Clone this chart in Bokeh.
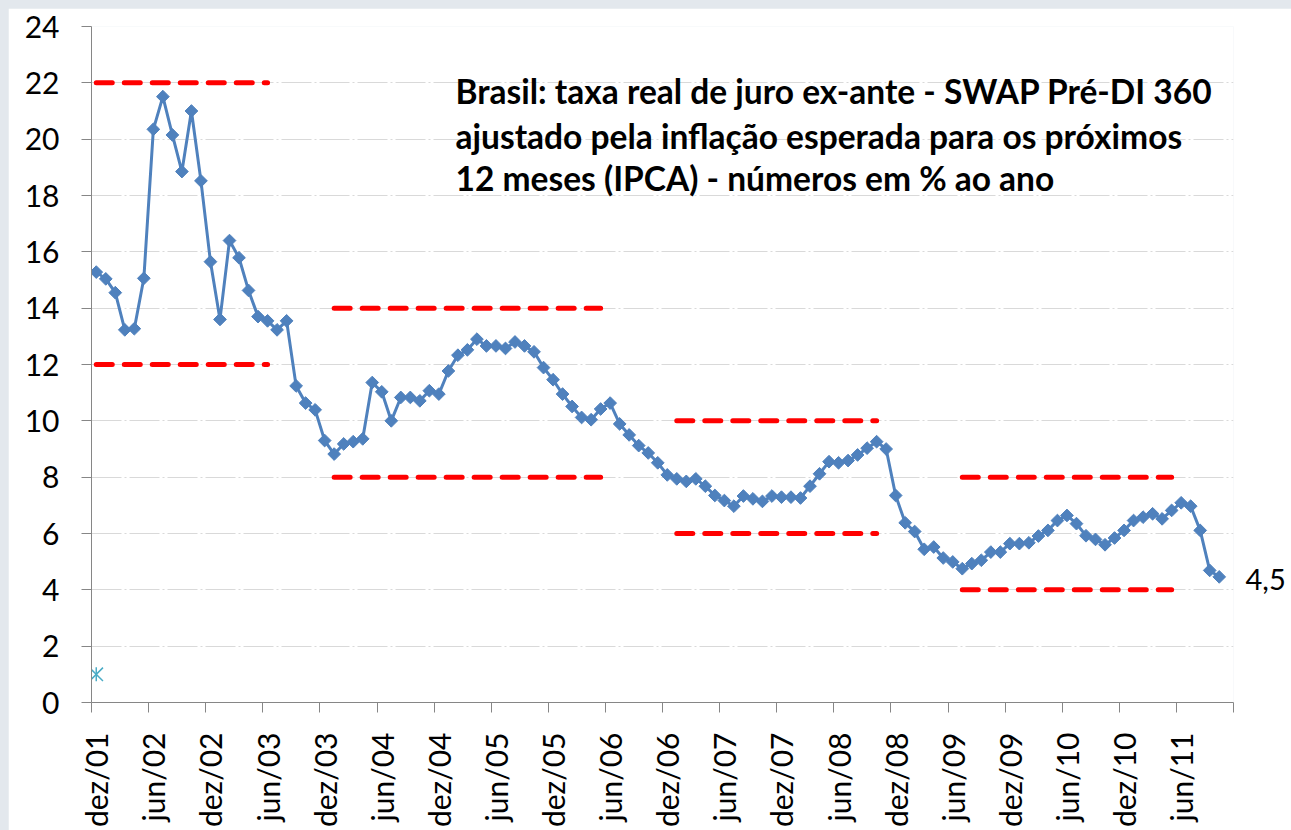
import math
from bokeh.plotting import figure
from bokeh.models import Range1d, FixedTicker, LinearAxis, Label, ColumnDataSource
from bokeh.embed import file_html
from bokeh.resources import INLINE

FONT = "Lato"

# ---- categories (monthly, dez/01 .. nov/11) ----
month_abbr = ["jan", "fev", "mar", "abr", "mai", "jun",
              "jul", "ago", "set", "out", "nov", "dez"]
categories = []
y, m = 2001, 12
for _ in range(120):
    categories.append(f"{month_abbr[m - 1]}/{y % 100:02d}")
    m += 1
    if m > 12:
        m = 1
        y += 1

# ---- series: real ex-ante interest rate (% a.a.), dez/01 .. out/11 ----
real_rate = [
    15.28, 15.04, 14.55, 13.23, 13.27, 15.06, 20.35, 21.51, 20.15, 18.85, 21.00,
    18.52, 15.65, 13.60, 16.40, 15.79, 14.63, 13.70, 13.55, 13.23, 13.55,
    11.24, 10.63, 10.39, 9.30, 8.82, 9.18, 9.26, 9.36, 11.36, 11.03,
    10.00, 10.83, 10.83, 10.71, 11.07, 10.95, 11.77, 12.33, 12.52, 12.90,
    12.66, 12.66, 12.57, 12.80, 12.66, 12.45, 11.89, 11.46, 10.95, 10.51,
    10.12, 10.04, 10.42, 10.63, 9.89, 9.50, 9.12, 8.86, 8.51, 8.08,
    7.94, 7.85, 7.94, 7.68, 7.35, 7.17, 6.97, 7.33, 7.23, 7.14,
    7.33, 7.29, 7.29, 7.26, 7.68, 8.12, 8.55, 8.51, 8.59, 8.79,
    9.03, 9.26, 9.00, 7.35, 6.38, 6.07, 5.44, 5.52, 5.13, 4.99,
    4.75, 4.93, 5.05, 5.34, 5.34, 5.64, 5.64, 5.67, 5.91, 6.11,
    6.46, 6.64, 6.35, 5.92, 5.79, 5.60, 5.84, 6.11, 6.46, 6.58,
    6.70, 6.52, 6.82, 7.09, 6.97, 6.11, 4.69, 4.46,
]

# second (single-point) series
star_month = ["dez/01"]
star_value = [1.0]

# red dashed bands
band_start = ["dez/01", "jan/04", "jan/07", "jul/09"]
band_end = ["jun/03", "mai/06", "out/08", "mai/11"]
band_upper = [22, 14, 10, 8]
band_lower = [12, 8, 6, 4]

# axis tick labels
tick_labels = ["dez/01", "jun/02", "dez/02", "jun/03", "dez/03", "jun/04",
               "dez/04", "jun/05", "dez/05", "jun/06", "dez/06", "jun/07",
               "dez/07", "jun/08", "dez/08", "jun/09", "dez/09", "jun/10",
               "dez/10", "jun/11"]
y_ticks = list(range(0, 25, 2))

title_lines = [
    "Brasil: taxa real de juro ex-ante - SWAP Pré-DI 360",
    "ajustado pela inflação esperada para os próximos",
    "12 meses (IPCA) - números em % ao ano",
]

# ---------------------------------------------------------------
idx = {c: i for i, c in enumerate(categories)}
x_vals = list(range(len(real_rate)))

p = figure(width=1283, height=822,
           x_range=Range1d(-0.5, len(categories) - 0.5),
           y_range=Range1d(0, 24),
           output_backend="svg", toolbar_location=None,
           min_border_left=83, min_border_right=58,
           min_border_top=18, min_border_bottom=126,
           background_fill_color="white", border_fill_color="white",
           outline_line_color=None)

AX = "#868686"

# y axis
p.yaxis.ticker = FixedTicker(ticks=y_ticks)
p.yaxis.major_tick_out = 10
p.yaxis.major_tick_in = 0
p.yaxis.minor_tick_line_color = None
p.yaxis.axis_line_color = AX
p.yaxis.major_tick_line_color = AX
p.yaxis.major_label_text_font = FONT
p.yaxis.major_label_text_font_size = "30px"
p.yaxis.major_label_text_color = "black"
p.yaxis.major_label_standoff = 22

# x axis: labels at category centres (major), tick marks at the
# category boundaries (minor)
label_pos = [idx[t] for t in tick_labels]
bounds = [idx[t] - 0.5 for t in tick_labels] + [len(categories) - 0.5]
xa = p.xaxis[0]
xa.ticker = FixedTicker(ticks=label_pos, minor_ticks=bounds)
xa.major_label_overrides = {idx[t]: t for t in tick_labels}
xa.major_tick_out = 0
xa.major_tick_in = 0
xa.major_tick_line_color = None
xa.minor_tick_out = 10
xa.minor_tick_in = 0
xa.minor_tick_line_color = AX
xa.axis_line_color = AX
xa.major_label_orientation = math.pi / 2
xa.major_label_standoff = 20
xa.major_label_text_font = FONT
xa.major_label_text_font_size = "30px"
xa.major_label_text_color = "black"

# last value shown at the right edge (right axis with one tick)
last = real_rate[-1]
last_txt = f"{last:.1f}".replace(".", ",")
ra = LinearAxis(ticker=FixedTicker(ticks=[last - 0.1]),
                major_label_overrides={last - 0.1: last_txt},
                major_tick_out=0, major_tick_in=0,
                minor_tick_line_color=None, axis_line_color=None,
                major_tick_line_color=None,
                major_label_standoff=12,
                major_label_text_font=FONT,
                major_label_text_font_size="29px",
                major_label_text_color="black")
p.add_layout(ra, "right")

# grid
p.xgrid.grid_line_color = None
p.ygrid.ticker = FixedTicker(ticks=y_ticks)
p.ygrid.grid_line_color = "#d9d9d9"
p.ygrid.grid_line_dash = "30 3 2 3"
p.ygrid.grid_line_width = 1

# bands
band_src = ColumnDataSource(dict(
    x0=[idx[s] for s in band_start], x1=[idx[e] for e in band_end],
    up=band_upper, lo=band_lower))
for col in ("up", "lo"):
    p.segment(x0="x0", y0=col, x1="x1", y1=col, source=band_src,
              line_color="#FF0000", line_width=5, line_dash="16 12",
              line_cap="round")

# main series
src = ColumnDataSource(dict(x=x_vals, y=real_rate))
p.line("x", "y", source=src, line_color="#4F81BD", line_width=3,
       line_join="round")
p.scatter("x", "y", source=src, marker="square", angle=math.pi / 4,
          size=9, fill_color="#4F81BD", line_color="#4F81BD")

# star series
sx = [idx[s] for s in star_month]
p.scatter(sx, star_value, marker="x", size=19, line_color="#4BACC6",
          line_width=1.5)
p.scatter(sx, star_value, marker="dash", angle=math.pi / 2, size=14,
          line_color="#4BACC6", line_width=1.5)

# title block
title_x = 37.75
title_y = [21.70, 20.12, 18.62]
for t, ty in zip(title_lines, title_y):
    p.add_layout(Label(x=title_x, y=ty, text=t, text_font=FONT,
                       text_font_style="bold", text_font_size="33.5px",
                       text_color="black", text_baseline="alphabetic",
                       text_align="left"))

html = file_html(p, INLINE, title="Brasil: taxa real de juro ex-ante")
html = html.replace(
    "</head>",
    "<style>html, body{background:#e3e8ed !important;}"
    " body{padding:8px 0 0 8px !important; margin:0 !important;}</style></head>", 1)
open("out.html", "w").write(html)
